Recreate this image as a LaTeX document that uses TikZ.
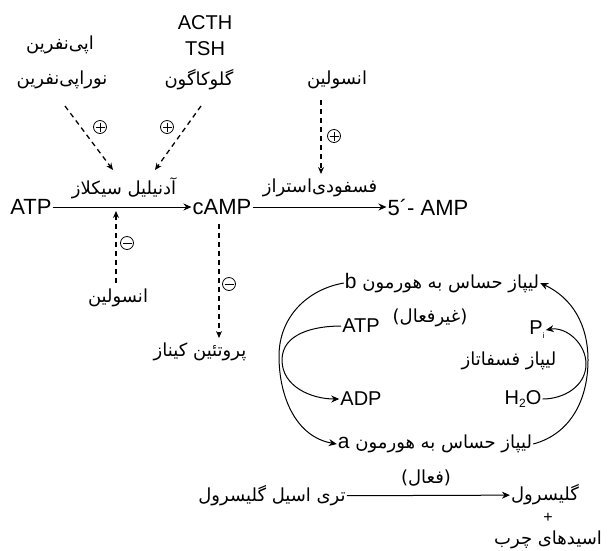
\documentclass[tikz,border=0pt]{standalone}
\usepackage{fontspec}
\setmainfont{Liberation Sans}
\newfontfamily\fa[Script=Arabic]{DejaVu Sans}
\TeXXeTstate=1
\usetikzlibrary{arrows.meta}
\newcommand{\rtl}[1]{\beginR #1\endR}
\newcommand{\latb}[1]{{\fontspec{Liberation Sans}\fontsize{21}{21}\selectfont #1}}
\tikzset{
  lat/.style={font=\fontsize{22}{24}\selectfont, inner sep=1pt},
  fat/.style={font=\fa\fontsize{18}{20}\selectfont, inner sep=1pt, align=center},
  sgn/.style={circle, draw, line width=0.8pt, minimum size=13pt, inner sep=0pt},
  sgnplus/.style={sgn, path picture={
      \draw[line width=0.8pt] ([xshift=2pt]path picture bounding box.west) -- ([xshift=-2pt]path picture bounding box.east);
      \draw[line width=0.8pt] ([yshift=-2pt]path picture bounding box.north) -- ([yshift=2pt]path picture bounding box.south);}},
  sgnminus/.style={sgn, path picture={
      \draw[line width=0.9pt] ([xshift=2pt]path picture bounding box.west) -- ([xshift=-2pt]path picture bounding box.east);}},
  react/.style={line width=1pt, -{Stealth[length=8pt,width=7pt]}},
  reg/.style={line width=1.3pt, dash pattern=on 5pt off 4pt, -{Stealth[length=7pt,width=6pt]}},
}
\begin{document}
\begin{tikzpicture}[x=1pt,y=-1pt]
\useasboundingbox (0,0) rectangle (609,550);

% hormones acting on adenylyl cyclase
\node[fat] (epi1) at (60,45) {\rtl{اپی‌نفرین}};
\node[fat] (epi2) at (62,80) {\rtl{نوراپی‌نفرین}};
\node[lat, font=\fontsize{20}{26}\selectfont, align=center] (acth) at (205,36) {ACTH\\TSH};
\node[fat] (glc) at (199,80) {\rtl{گلوکاگون}};
\node[fat] (ins1) at (337,80) {\rtl{انسولین}};

% main cAMP line
\node[lat] (atp) at (31,207) {ATP};
\node[lat] (camp) at (222,207) {cAMP};
\node[lat] (amp) at (428,207) {5´- AMP};
\node[fat] (ac) at (124,188) {\rtl{آدنیلیل سیکلاز}};
\node[fat] (pde) at (320,188) {\rtl{فسفودی‌استراز}};
\draw[react] (atp) -- (camp);
\draw[react] (camp) -- (amp);

% regulation of adenylyl cyclase and phosphodiesterase
\coordinate (epiS) at (65,106);
\coordinate (glcS) at (201,106);
\coordinate (ins1S) at (321,100);
\coordinate (ins2N) at (116,283);
\coordinate (acL) at (113,170);
\coordinate (acR) at (155,170);
\coordinate (acB) at (116,211);
\coordinate (pdeT) at (321,174);
\draw[reg] (epiS) -- (acL);
\draw[reg] (glcS) -- (acR);
\node[sgnplus] (s1) at (100,127) {};
\node[sgnplus] (s2) at (167,127) {};
\draw[reg] (ins1S) -- (pdeT);
\node[sgnplus] (s3) at (334,136) {};
\node[fat] (ins2) at (118,298) {\rtl{انسولین}};
\draw[reg] (ins2N) -- (acB);
\node[sgnminus] (s4) at (127,243) {};

% protein kinase
\node[fat] (pk) at (200,352) {\rtl{پروتئین کیناز}};
\coordinate (campS) at (219,224);
\coordinate (pkT) at (219,338);
\draw[reg] (campS) -- (pkT);
\node[sgnminus] (s5) at (229,284) {};

% hormone-sensitive lipase cycle
\node[fat] (hslb) at (442,283) {\rtl{لیپاز حساس به هورمون \latb{b}}};
\node[fat] (inact) at (430,318) {\rtl{(غیرفعال)}};
\node[fat] (hsla) at (435,444) {\rtl{لیپاز حساس به هورمون \latb{a}}};
\node[fat] (act) at (426,478) {\rtl{(فعال)}};
\node[lat, font=\fontsize{20}{22}\selectfont] (atp2) at (361,326) {ATP};
\node[lat, font=\fontsize{20}{22}\selectfont] (adp) at (361,399) {ADP};
\node[lat, font=\fontsize{20}{22}\selectfont] (pi) at (537,330) {P\raisebox{-4pt}{\fontsize{8}{8}\selectfont i}};
\node[lat, font=\fontsize{20}{22}\selectfont] (h2o) at (523,399) {H\raisebox{-3pt}{\fontsize{12}{12}\selectfont 2}O};
\node[fat] (lpp) at (509,361) {\rtl{لیپاز فسفاتاز}};

\coordinate (lft) at (279,356);
\coordinate (lfti) at (282,360);
\coordinate (rgt) at (588,360);
\coordinate (rgti) at (586,364);
\draw[react] (hslb.west) to[out=190,in=90] (lft) to[out=-90,in=170] (hsla.west);
\draw[react] (atp2.west) to[out=180,in=90] (lfti) to[out=-90,in=180] (adp.west);
\draw[react] (hsla.east) to[out=15,in=-90] (rgt) to[out=90,in=-25] (hslb.east);
\draw[react] (h2o.east) to[out=0,in=-90] (rgti) to[out=90,in=10] (pi.east);

% lipolysis
\node[fat] (tag) at (272,496) {\rtl{تری اسیل گلیسرول}};
\node[fat] (gly) at (545,495) {\rtl{گلیسرول}};
\node[lat, font=\fontsize{16}{16}\selectfont] (plus) at (548,518) {+};
\node[fat] (fa) at (548,540) {\rtl{اسیدهای چرب}};
\draw[react] (tag) -- (gly);
\end{tikzpicture}
\end{document}
